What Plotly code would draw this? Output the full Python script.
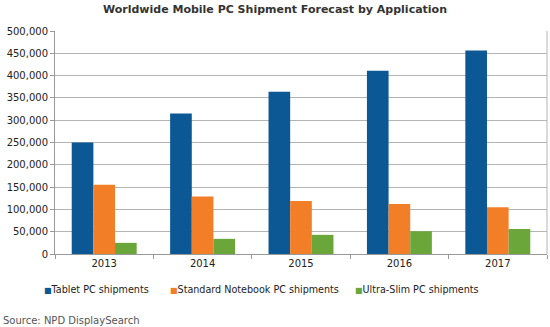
import plotly.graph_objects as go

years = ["2013", "2014", "2015", "2016", "2017"]
tablet = [250000, 315000, 364000, 411000, 456000]
notebook = [155000, 129000, 119000, 112000, 105000]
ultraslim = [25000, 34000, 43000, 51000, 56000]
series_names = ["Tablet PC shipments", "Standard Notebook PC shipments", "Ultra-Slim PC shipments"]
colors = ["#0b5894", "#f27f27", "#6aa63a"]
tick_vals = [0, 50000, 100000, 150000, 200000, 250000, 300000, 350000, 400000, 450000, 500000]

L, R, T, B = 55, 3, 31, 73
W, H = 550, 327
pw, ph = W - L - R, H - T - B

def px_x(x):
    return (x - L) / pw

def px_y(y):
    return (H - B - y) / ph

fig = go.Figure()
for name, vals, c in zip(series_names, [tablet, notebook, ultraslim], colors):
    fig.add_trace(go.Bar(x=years, y=vals, name=name, marker=dict(color=c, line=dict(width=0)),
                         showlegend=False))

font = "DejaVu Sans, Verdana, sans-serif"
legend_x = [42, 168, 353]
annotations = []
for name, c, lx in zip(series_names, colors, legend_x):
    annotations.append(dict(
        text=f"<span style='color:{c};font-size:8px'>■</span>{name}",
        xref="paper", yref="paper", x=px_x(lx), xanchor="left",
        y=px_y(289), yanchor="middle", showarrow=False,
        font=dict(family=font, size=9.6, color="#222222")))
annotations.append(dict(text="Source: NPD DisplaySearch", xref="paper", yref="paper",
                        x=px_x(1), xanchor="left", y=px_y(320), yanchor="middle", showarrow=False,
                        font=dict(family=font, size=10, color="#555555")))

fig.update_layout(
    width=W, height=H,
    margin=dict(l=L, r=R, t=T, b=B),
    paper_bgcolor="white", plot_bgcolor="white",
    barmode="group", bargap=0.34, bargroupgap=0,
    title=dict(text="<b>Worldwide Mobile PC Shipment Forecast by Application</b>",
               x=0.5, xanchor="center", y=0.985, yanchor="top",
               font=dict(family=font, size=11, color="#333333")),
    font=dict(family=font, size=10, color="#222222"),
    showlegend=False,
    xaxis=dict(showline=True, linecolor="#999999", linewidth=1,
               ticks="outside", ticklen=4, tickcolor="#999999",
               tickson="boundaries", mirror=False,
               tickfont=dict(family=font, size=10, color="#222222")),
    yaxis=dict(range=[0, 500000], tickvals=tick_vals, tickformat=",",
               showgrid=True, gridcolor="#b4b4b4", gridwidth=1,
               showline=True, linecolor="#999999", linewidth=1,
               ticks="outside", ticklen=4, tickcolor="#999999",
               zeroline=False,
               tickfont=dict(family=font, size=10, color="#222222")),
    shapes=[dict(type="line", xref="paper", yref="paper", x0=1, x1=1, y0=0, y1=1,
                 line=dict(color="#b4b4b4", width=1))],
    annotations=annotations,
)

fig.write_html("out.html")
